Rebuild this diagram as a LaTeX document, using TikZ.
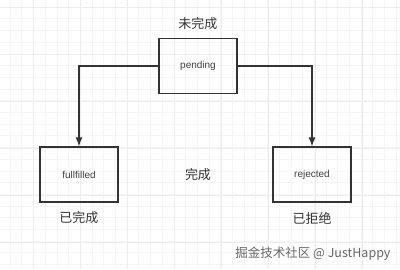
\documentclass[tikz,border=0pt]{standalone}
\usepackage{fontspec}
\setmainfont{Liberation Sans}
\newfontfamily\cjk{Noto Sans CJK SC}
\usetikzlibrary{arrows.meta}
\begin{document}
\begin{tikzpicture}[x=1pt,y=-1pt,
  box/.style={draw=black!80, line width=1.2pt, minimum width=78pt, minimum height=55pt, inner sep=0pt, font=\fontsize{10}{12}\selectfont, text=black!75},
  lbl/.style={font=\cjk\fontsize{13}{15}\selectfont, text=black!80},
  conn/.style={draw=black!80, line width=1.2pt, -{Latex[length=9pt,width=7pt]}}]
\useasboundingbox (0,0) rectangle (400,269);
\fill[white] (0,0) rectangle (400,269);
% faint grid
\foreach \x in {-1.75,9.95,...,400} {\draw[black!4, line width=0.5pt] (\x,0) -- (\x,269);}
\foreach \y in {-4.7,7,...,269} {\draw[black!4, line width=0.5pt] (0,\y) -- (400,\y);}
\foreach \x in {33,80,...,400} {\draw[black!7, line width=0.7pt] (\x,0) -- (\x,269);}
\foreach \y in {7,54,...,269} {\draw[black!7, line width=0.7pt] (0,\y) -- (400,\y);}
% nodes
\node[box] (pending) at (198,66) {pending};
\node[box] (fulfilled) at (79,174.5) {fullfilled};
\node[box] (rejected) at (312,174.5) {rejected};
\node[lbl] (l1) at (198,24) {未完成};
\node[lbl] (l2) at (198,175) {完成};
\node[lbl] (l3) at (79,218) {已完成};
\node[lbl] (l4) at (312,218) {已拒绝};
\node[font=\cjk\fontsize{12.5}{14}\selectfont, text=black!60, anchor=east] (wm) at (394,254) {掘金技术社区 @ JustHappy};
% connectors
\draw[conn] (pending.west) -| (fulfilled.north);
\draw[conn] (pending.east) -| (rejected.north);
\end{tikzpicture}
\end{document}
